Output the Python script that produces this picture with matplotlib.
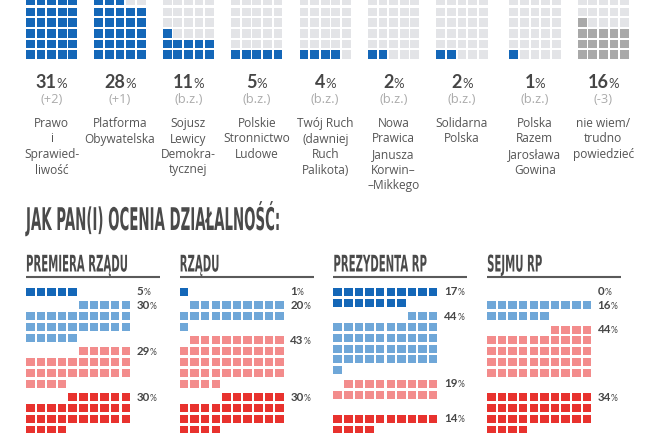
import matplotlib
matplotlib.use('Agg')
import matplotlib.pyplot as plt
from matplotlib.patches import Rectangle
from matplotlib.collections import PatchCollection
from matplotlib.offsetbox import TextArea, HPacker, AnnotationBbox
import matplotlib.patheffects as pe
from matplotlib.transforms import Affine2D

# ---------------- data ----------------
party_names = [
    ["Prawo", "i", "Sprawied-", "liwość"],
    ["Platforma", "Obywatelska"],
    ["Sojusz", "Lewicy", "Demokra-", "tycznej"],
    ["Polskie", "Stronnictwo", "Ludowe"],
    ["Twój Ruch", "(dawniej", "Ruch", "Palikota)"],
    ["Nowa", "Prawica", "Janusza", "Korwin–", "–Mikkego"],
    ["Solidarna", "Polska"],
    ["Polska", "Razem", "Jarosława", "Gowina"],
    ["nie wiem/", "trudno", "powiedzieć"],
]
party_values = [31, 28, 11, 5, 4, 2, 2, 1, 16]
party_changes = ["(+2)", "(+1)", "(b.z.)", "(b.z.)", "(b.z.)", "(b.z.)", "(b.z.)", "(b.z.)", "(-3)"]

title = "JAK PAN(I) OCENIA DZIAŁALNOŚĆ:"
panel_titles = ["PREMIERA RZĄDU", "RZĄDU", "PREZYDENTA RP", "SEJMU RP"]
premier_values = [5, 30, 29, 30]
rzad_values = [1, 20, 43, 30]
prezydent_values = [17, 44, 19, 14]
sejm_values = [0, 16, 44, 34]
panel_values = [premier_values, rzad_values, prezydent_values, sejm_values]

# ---------------- style ----------------
C_BLUE = "#1467b8"
C_LBLUE = "#6fa7d8"
C_PINK = "#f38c8c"
C_RED = "#e8322e"
C_EMPTY = "#e3e4e7"
C_UNK = "#a9a9a9"
cat_colors = [C_BLUE, C_LBLUE, C_PINK, C_RED]
TXT = "#464646"

NUMFONT = ["Lato", "DejaVu Sans"]
LABFONT = ["Open Sans", "DejaVu Sans"]


class Condense(pe.AbstractPathEffect):
    """Draw text glyphs scaled about their baseline origin (condensed display look)."""
    def __init__(self, sx=1.0, sy=1.0):
        super().__init__()
        self.sx = sx
        self.sy = sy

    def draw_path(self, renderer, gc, tpath, affine, rgbFace=None):
        renderer.draw_path(gc, tpath, Affine2D().scale(self.sx, self.sy) + affine, rgbFace)


fig = plt.figure(figsize=(6.5, 4.33), dpi=100)
fig.patch.set_facecolor("white")
ax = fig.add_axes([0, 0, 1, 1])
ax.set_xlim(0, 650)
ax.set_ylim(433, 0)
ax.axis("off")

# ---------------- top waffles ----------------
cols_per = 5
px, py = 10.6, 10.7
cw, ch = 8.8, 8.6
bottom_row_top = 50.3
patches, colors = [], []
for i, v in enumerate(party_values):
    left = 26 + i * 68.4 + (4.5 if i >= 7 else 0)
    fill = C_UNK if i == len(party_values) - 1 else C_BLUE
    for j in range(100):
        r, c = divmod(j, cols_per)
        patches.append(Rectangle((left + c * px, bottom_row_top - r * py), cw, ch))
        colors.append(fill if j < v else C_EMPTY)
    cx = left + (4 * px + cw) / 2
    pack = HPacker(children=[
        TextArea(str(v), textprops=dict(fontsize=13, fontweight="bold", color=TXT, family=NUMFONT)),
        TextArea("%", textprops=dict(fontsize=9.5, color=TXT, family=NUMFONT)),
    ], align="baseline", pad=0, sep=0)
    ax.add_artist(AnnotationBbox(pack, (cx, 82.5), box_alignment=(0.5, 0.5), frameon=False, pad=0))
    ax.text(cx, 99.5, party_changes[i], ha="center", va="center", fontsize=9.3,
            color="#ababab", family=LABFONT)
    for k, line in enumerate(party_names[i]):
        ax.text(cx, 123.5 + k * 15.5, line, ha="center", va="center", fontsize=8.6,
                color="#555555", family=LABFONT)

ax.add_collection(PatchCollection(patches, facecolors=colors, edgecolors="none"))

# ---------------- title & headers ----------------
t = ax.text(26, 230, title, ha="left", va="baseline", fontsize=22.5, fontweight="bold",
            color="#4a4a4a", family="DejaVu Sans")

bpx, bpy = 10.62, 10.85
bw, bh = 8.5, 8.0
row0_top = 287.7
cat_gap = 13.5
panel_left0 = 26
panel_step = 153.7

HEAD_FS = 10.0          # base size; glyphs are scaled up vertically to the display size
HEAD_DISPLAY_FS = 16.5

heads = []
for p, (ttl, vals) in enumerate(zip(panel_titles, panel_values)):
    left = panel_left0 + p * panel_step
    h = ax.text(left, 271.5, ttl, ha="left", va="baseline", fontsize=HEAD_FS, fontweight="bold",
                color="#4a4a4a", family="DejaVu Sans")
    heads.append(h)
    ax.plot([left, left + 134], [277.3, 277.3], color="#5a5a5a", lw=1.5, solid_capstyle="butt")

    bp, bc = [], []
    start = 0
    for k, v in enumerate(vals):
        for j in range(start, start + v):
            r, c = divmod(j, 10)
            bp.append(Rectangle((left + c * bpx, row0_top + r * bpy + k * cat_gap), bw, bh))
            bc.append(cat_colors[k])
        r0 = start // 10
        ly = row0_top + r0 * bpy + k * cat_gap + bh / 2
        pack = HPacker(children=[
            TextArea(str(v), textprops=dict(fontsize=8.3, fontweight="bold", color=TXT, family=NUMFONT)),
            TextArea("%", textprops=dict(fontsize=6.2, color=TXT, family=NUMFONT)),
        ], align="baseline", pad=0, sep=0)
        ax.add_artist(AnnotationBbox(pack, (left + 110.5, ly), box_alignment=(0, 0.5),
                                     frameon=False, pad=0))
        start += v
    ax.add_collection(PatchCollection(bp, facecolors=bc, edgecolors="none"))

# condense the display-font texts to the reference widths
fig.canvas.draw()
renderer = fig.canvas.get_renderer()
t.set_path_effects([Condense(254 / t.get_window_extent(renderer).width, 1.0)])
sx_head = 102 / heads[0].get_window_extent(renderer).width
sy_head = HEAD_DISPLAY_FS / HEAD_FS
for h in heads:
    h.set_path_effects([Condense(sx_head, sy_head)])

fig.savefig("out.png", dpi=100, facecolor="white")
